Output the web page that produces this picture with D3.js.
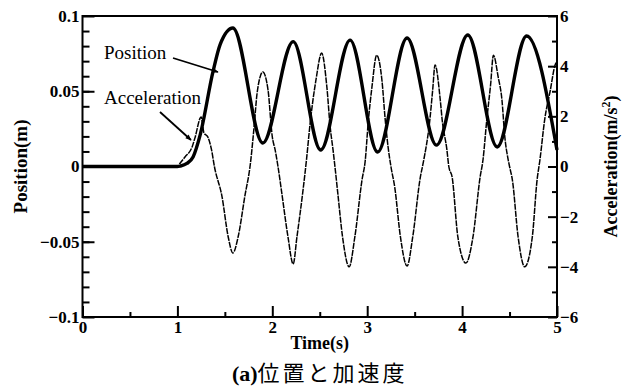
<!DOCTYPE html>
<html>
<head>
<meta charset="utf-8">
<script src="https://cdn.jsdelivr.net/npm/d3@7"></script>
<style>
  body { margin: 0; background: #fff; }
  svg { display: block; }
</style>
</head>
<body>
<script>
// position (m)
const posTime = [0, 1.0, 1.03, 1.1, 1.165, 1.24, 1.375, 1.45, 1.585, 1.9, 2.22, 2.51, 2.82, 3.11, 3.42, 3.73, 4.06, 4.37, 4.68, 5.0];
const posValue = [0, 0, 0.0003, 0.002, 0.0063, 0.021, 0.063, 0.081, 0.092, 0.0156, 0.083, 0.011, 0.084, 0.0096, 0.0854, 0.0142, 0.0874, 0.013, 0.0867, 0.011];

// acceleration (m/s^2)
const accTime = [0, 1.0, 1.03, 1.08, 1.155, 1.185, 1.25, 1.28, 1.32, 1.36, 1.39, 1.47, 1.535, 1.585, 1.64, 1.71, 1.77,
  1.81, 1.84, 1.9, 1.955, 2.0, 2.03, 2.06, 2.1, 2.165, 2.22, 2.26, 2.32, 2.36,
  2.4, 2.46, 2.52, 2.575, 2.61, 2.64, 2.66, 2.69, 2.74, 2.81, 2.87, 2.945, 2.98,
  3.01, 3.05, 3.1, 3.155, 3.19, 3.22, 3.25, 3.29, 3.35, 3.42, 3.48, 3.56, 3.59,
  3.66, 3.69, 3.715, 3.77, 3.79, 3.84, 3.86, 3.895, 3.955, 4.04, 4.115, 4.19, 4.22,
  4.26, 4.3, 4.33, 4.38, 4.42, 4.45, 4.48, 4.5, 4.53, 4.59, 4.66, 4.74, 4.79, 4.82,
  4.87, 4.93, 4.98, 5.0];
const accValue = [0, 0, 0.14, 0.38, 0.78, 1.14, 1.97, 1.34, 1.18, 0.66, 0, -1.2, -2.8, -3.45, -2.8, -1.2, 0.14,
  1.66, 2.93, 3.77, 3.05, 1.18, 0.66, 0, -1.06, -2.8, -3.89, -2.8, -1.06, 0.26,
  1.77, 3.45, 4.52, 3.17, 1.57, 0.66, 0, -1.06, -2.8, -4.0, -2.8, -0.54, 0.26,
  1.73, 3.17, 4.44, 3.45, 1.86, 0.78, 0, -0.82, -2.8, -3.97, -2.8, -0.42, 0.14,
  1.86, 3.05, 4.05, 2.65, 1.86, 0.66, 0, -0.42, -2.8, -3.85, -2.8, -0.42, 0.26,
  1.86, 3.25, 4.44, 3.57, 2.65, 1.18, 0.38, 0, -0.54, -2.8, -4.0, -2.8, -0.54, 0.26,
  1.86, 3.05, 4.05, 4.2];

const timeTicks = [0, 1, 2, 3, 4, 5];
const timeMinor = [0.5, 1.5, 2.5, 3.5, 4.5];
const posTicks = [-0.1, -0.05, 0, 0.05, 0.1];
const accTicks = [-6, -4, -2, 0, 2, 4, 6];

const W = 622, H = 390;
const m = {left: 82.5, top: 16, right: 65, bottom: 73};
const iw = W - m.left - m.right, ih = H - m.top - m.bottom;
const serif = "'Liberation Serif', 'Times New Roman', serif";

const svg = d3.select("body").append("svg")
  .attr("width", W)
  .attr("height", H);

const g = svg.append("g").attr("transform", `translate(${m.left},${m.top})`);

const x = d3.scaleLinear().domain([0, 5]).range([0, iw]);
const yL = d3.scaleLinear().domain([-0.1, 0.1]).range([ih, 0]);
const yR = d3.scaleLinear().domain([-6, 6]).range([ih, 0]);

function styleAxis(sel) {
  sel.select(".domain").remove();
  sel.selectAll("line").attr("stroke", "#000").attr("stroke-width", 2);
  sel.selectAll("text")
    .attr("font-family", serif)
    .attr("font-size", "17px")
    .attr("font-weight", "bold")
    .attr("fill", "#000");
}

const minus = s => s.replace("-", "\u2212");

// bottom axis
g.append("g").attr("transform", `translate(0,${ih})`)
  .call(d3.axisBottom(x).tickValues(timeTicks).tickSize(-11).tickPadding(4).tickFormat(d3.format("d")))
  .call(styleAxis);
g.append("g").attr("transform", `translate(0,${ih})`)
  .call(d3.axisBottom(x).tickValues(timeMinor).tickSize(-5).tickFormat(""))
  .call(styleAxis);

// left axis
g.append("g")
  .call(d3.axisLeft(yL).tickValues(posTicks).tickSize(-12).tickPadding(3).tickFormat(d => minus(d === 0 ? "0" : String(d))))
  .call(styleAxis);
g.append("g")
  .call(d3.axisLeft(yL).tickValues(d3.range(-9, 10).map(d => d / 100)).tickSize(-7).tickFormat(""))
  .call(styleAxis);

// right axis
g.append("g").attr("transform", `translate(${iw},0)`)
  .call(d3.axisRight(yR).tickValues(accTicks).tickSize(-9).tickPadding(3).tickFormat(d => minus(String(d))))
  .call(styleAxis);
g.append("g").attr("transform", `translate(${iw},0)`)
  .call(d3.axisRight(yR).tickValues([-5, -3, -1, 1, 3, 5]).tickSize(-5).tickFormat(""))
  .call(styleAxis);

// frame
g.append("rect")
  .attr("width", iw).attr("height", ih)
  .attr("fill", "none").attr("stroke", "#000").attr("stroke-width", 2);

// curves
const posLine = d3.line()
  .x((d, i) => x(posTime[i]))
  .y(d => yL(d))
  .curve(d3.curveMonotoneX);
const accLine = d3.line()
  .x((d, i) => x(accTime[i]))
  .y(d => yR(d))
  .curve(d3.curveMonotoneX);

g.append("path")
  .attr("d", accLine(accValue))
  .attr("fill", "none").attr("stroke", "#000").attr("stroke-width", 1.5)
  .attr("stroke-dasharray", "6,1");

g.append("path")
  .attr("d", posLine(posValue))
  .attr("fill", "none").attr("stroke", "#000").attr("stroke-width", 3.4);

// annotations
svg.append("defs").append("marker")
  .attr("id", "head")
  .attr("viewBox", "0 0 10 10")
  .attr("refX", 9).attr("refY", 5)
  .attr("markerWidth", 8).attr("markerHeight", 6)
  .attr("orient", "auto")
  .attr("markerUnits", "userSpaceOnUse")
  .append("path").attr("d", "M0,1 L10,5 L0,9 Z").attr("fill", "#000");

svg.append("text")
  .attr("x", 104).attr("y", 59)
  .attr("font-family", serif).attr("font-size", "19px").attr("fill", "#000")
  .text("Position");
svg.append("line")
  .attr("x1", 173).attr("y1", 58).attr("x2", 218).attr("y2", 72)
  .attr("stroke", "#000").attr("stroke-width", 1.8).attr("marker-end", "url(#head)");

svg.append("text")
  .attr("x", 104).attr("y", 104)
  .attr("font-family", serif).attr("font-size", "19px").attr("fill", "#000")
  .text("Acceleration");
svg.append("line")
  .attr("x1", 160).attr("y1", 112).attr("x2", 191).attr("y2", 140)
  .attr("stroke", "#000").attr("stroke-width", 1.8).attr("marker-end", "url(#head)");

// axis titles
svg.append("text")
  .attr("transform", `translate(27,${m.top + ih / 2}) rotate(-90)`)
  .attr("text-anchor", "middle")
  .attr("font-family", serif).attr("font-size", "19px").attr("font-weight", "bold")
  .text("Position(m)");

const rt = svg.append("text")
  .attr("transform", `translate(617,${m.top + ih / 2}) rotate(-90)`)
  .attr("text-anchor", "middle")
  .attr("font-family", serif).attr("font-size", "18px").attr("font-weight", "bold");
rt.append("tspan").text("Acceleration(m/s");
rt.append("tspan").attr("font-size", "12px").attr("dy", -7).text("2");
rt.append("tspan").attr("dy", 7).text(")");

svg.append("text")
  .attr("x", m.left + iw / 2).attr("y", 349)
  .attr("text-anchor", "middle")
  .attr("font-family", serif).attr("font-size", "18px").attr("font-weight", "bold")
  .text("Time(s)");

const sub = svg.append("text")
  .attr("x", m.left + iw / 2).attr("y", 381)
  .attr("text-anchor", "middle")
  .attr("font-size", "22px");
sub.append("tspan").attr("font-family", serif).attr("font-weight", "bold").text("(a)");
sub.append("tspan").attr("font-family", "'Noto Sans CJK JP', sans-serif").attr("letter-spacing", "3px").text("位置と加速度");
</script>
</body>
</html>
